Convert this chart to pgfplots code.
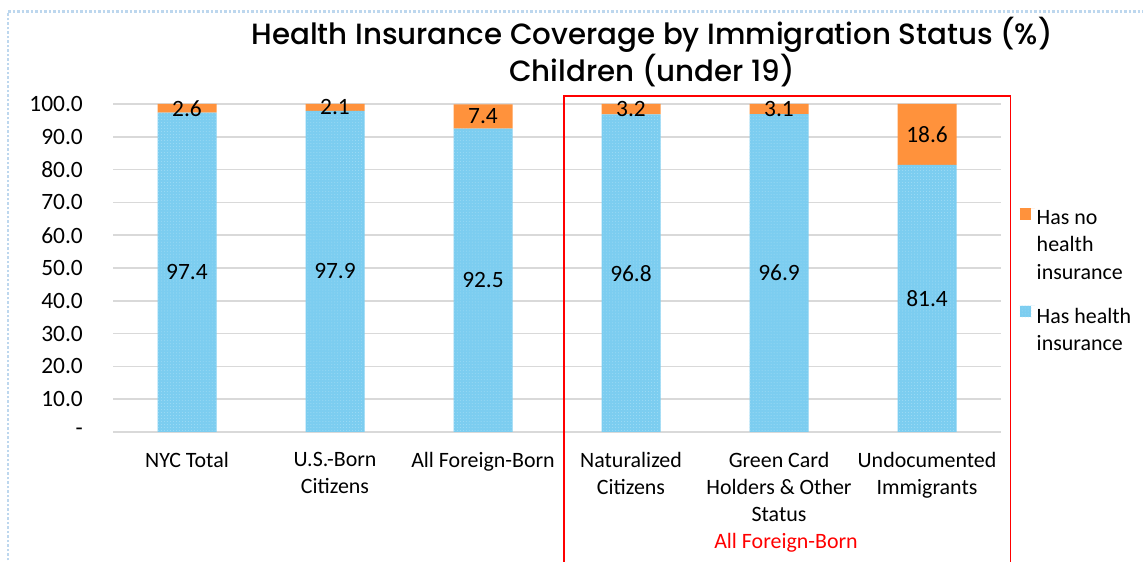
\documentclass[border=0pt]{standalone}
\usepackage{pgfplots}
\pgfplotsset{compat=1.18}
\usetikzlibrary{patterns}
\usepackage{fontspec}
\setmainfont{Carlito}
\newfontfamily\titlefont{Poppins}[UprightFont={* Medium}]

\definecolor{hasins}{RGB}{124,205,240}
\definecolor{hasdots}{RGB}{160,220,245}
\definecolor{noins}{RGB}{255,146,60}
\definecolor{gridgray}{RGB}{217,217,217}
\definecolor{borderblue}{RGB}{189,215,238}

\begin{document}
\begin{tikzpicture}[x=1bp,y=1bp]
\useasboundingbox (0,0) rectangle (1143,562);
% dotted frame of the chart area
\draw[borderblue, line width=2.5bp, dash pattern=on 2.5bp off 2bp] (8,-3) -- (8,550.5) -- (1146,550.5);

\node[font=\titlefont\fontsize{29.4}{35}\selectfont, align=center] at (652,510)
  {Health Insurance Coverage by Immigration Status (\%)\\Children (under 19)};

\begin{axis}[
    at={(113bp,130bp)}, anchor=south west,
    scale only axis, width=888bp, height=328bp,
    ybar stacked, bar width=59bp,
    xmin=-0.5, xmax=5.5, ymin=0, ymax=100,
    xtick={0,...,5},
    xticklabels={NYC Total, U.S.-Born\\Citizens, All Foreign-Born, Naturalized\\Citizens,
      Green Card\\Holders \& Other\\Status, Undocumented\\Immigrants},
    ytick={0,10,...,100},
    yticklabels={-,10.0,20.0,30.0,40.0,50.0,60.0,70.0,80.0,90.0,100.0},
    axis line style={draw=none},
    major tick length=0pt,
    ymajorgrids,
    major grid style={gridgray, line width=1.5bp},
    xticklabel style={font=\fontsize{22}{27}\selectfont, align=center, anchor=north, inner sep=0pt, yshift=-20bp},
    yticklabel style={font=\fontsize{23.5}{28}\selectfont, anchor=east, inner sep=0pt, xshift=-30bp},
    visualization depends on=rawy \as \rawy,
    nodes near coords={\pgfmathprintnumber[assume math mode=true,fixed,fixed zerofill,precision=1]{\rawy}},
    every node near coord/.append style={font=\fontsize{23.5}{28}\selectfont, anchor=center},
    reverse legend,
    legend style={draw=none, at={(1.0175,0.689)}, anchor=north west,
      font=\fontsize{22}{27.5}\selectfont, row sep=23bp,
      cells={align=left, anchor=north west}},
    legend image code/.code={\fill[#1] (0bp,0bp) rectangle (11.5bp,-11.5bp); \path (0bp,0bp) -- (15bp,0bp);},
]
\addplot[fill=hasins, draw=none, postaction={pattern=dots, pattern color=hasdots}]
  coordinates {(0,97.4) (1,97.9) (2,92.5) (3,96.8) (4,96.9) (5,81.4)};
\addplot[fill=noins, draw=none]
  coordinates {(0,2.6) (1,2.1) (2,7.4) (3,3.2) (4,3.1) (5,18.6)};
\legend{Has health\\insurance, Has no\\health\\insurance}
\end{axis}

\draw[red, line width=1.4bp] (564,-5) -- (564,466) -- (1010.5,466) -- (1010.5,-5);
\node[red, font=\fontsize{22}{27}\selectfont] at (786,19) {All Foreign-Born};
\end{tikzpicture}
\end{document}
